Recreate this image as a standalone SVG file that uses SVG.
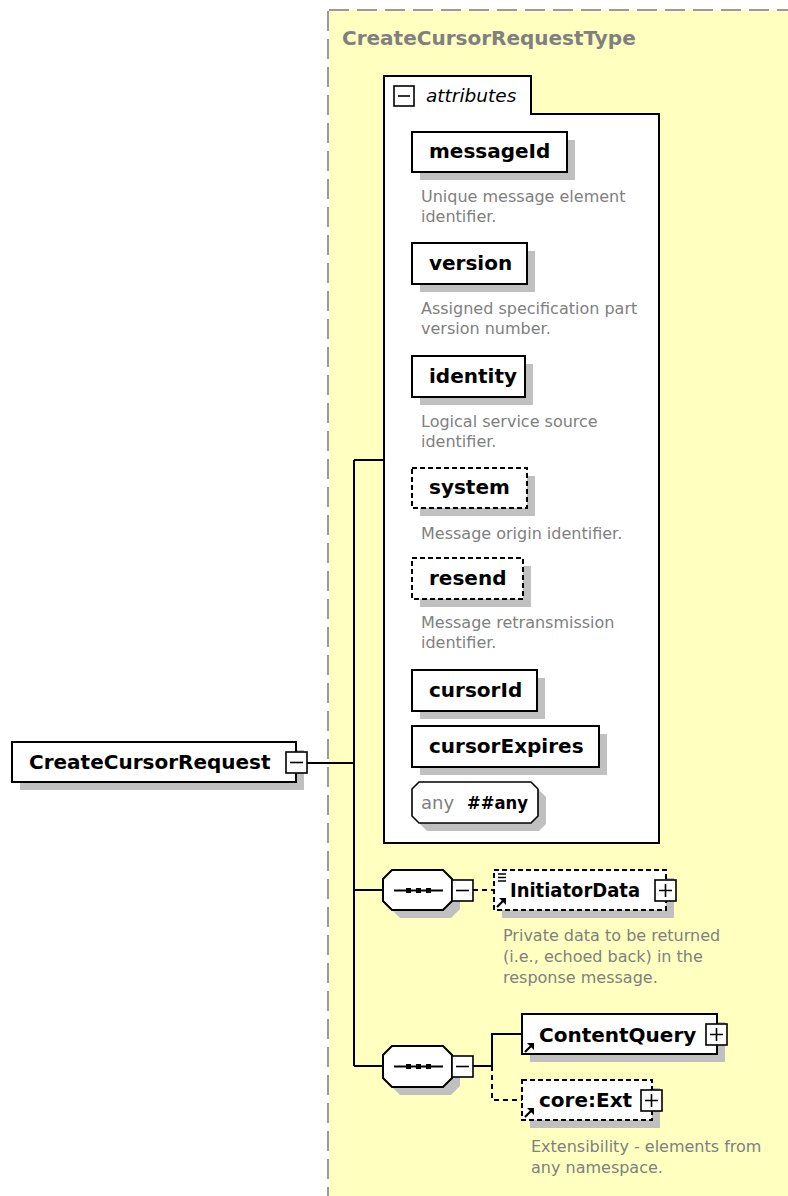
<svg xmlns="http://www.w3.org/2000/svg" width="788" height="1196" viewBox="0 0 788 1196">
  <defs>
    <style>
      .bg { fill: #ffffc0; }
      .frame { stroke: #9a9a9a; stroke-width: 2; stroke-dasharray: 20 8; fill: none; }
      .box { fill: #ffffff; stroke: #000000; stroke-width: 2; }
      .dashed { stroke-dasharray: 5 3; }
      .shadow { fill: #c0c0c0; }
      .conn { stroke: #000000; stroke-width: 2; fill: none; }
      .conn-opt { stroke: #000000; stroke-width: 2; fill: none; stroke-dasharray: 5 4; }
      .toggle { fill: #ffffff; stroke: #000000; stroke-width: 1.6; }
      .sign { stroke: #000000; stroke-width: 1.6; fill: none; }
      .name { font-family: "DejaVu Sans", Verdana, sans-serif; font-weight: bold; font-size: 20px; fill: #000000; }
      .title { font-family: "DejaVu Sans", Verdana, sans-serif; font-weight: bold; font-size: 20px; fill: #808080; }
      .desc { font-family: "DejaVu Sans", Verdana, sans-serif; font-size: 16px; fill: #808080; }
      .label { font-family: "DejaVu Sans", Verdana, sans-serif; font-style: italic; font-size: 18.5px; fill: #000000; }
      .icon { stroke: #000000; stroke-width: 2.2; fill: none; }
    </style>
    <!-- reference arrow glyph drawn at the lower-left corner of referenced elements -->
    <g id="ref-arrow">
      <path d="M1,10 L7,4" class="icon"/>
      <path d="M3,1 H10 V8 Z" fill="#000"/>
    </g>
    <!-- collapse / expand toggles -->
    <g id="minus">
      <rect x="0" y="0" width="21" height="21" class="toggle"/>
      <path d="M4,10.5 H17" class="sign"/>
    </g>
    <g id="plus">
      <rect x="0" y="0" width="21" height="21" class="toggle"/>
      <path d="M4,10.5 H17 M10.5,4 V17" class="sign"/>
    </g>
  </defs>

  <rect width="788" height="1196" fill="#ffffff"/>

  <!-- complex type area -->
  <g id="CreateCursorRequestType">
    <rect x="329" y="10" width="459" height="1186" class="bg"/>
    <path d="M329,10 H788 M328,11 V1196" class="frame"/>
    <text x="342" y="45" class="title">CreateCursorRequestType</text>
  </g>

  <!-- connectors -->
  <g id="connectors">
    <path d="M307,763 H354" class="conn"/>
    <path d="M354,460 V1066" class="conn"/>
    <path d="M354,460 H384" class="conn"/>
    <path d="M354,890 H383" class="conn"/>
    <path d="M354,1066 H383" class="conn"/>
    <path d="M473,890 H494" class="conn-opt"/>
    <path d="M473,1066 H492 V1034 H522" class="conn"/>
    <path d="M492,1066 V1100 H522" class="conn-opt"/>
  </g>

  <!-- root element -->
  <g id="CreateCursorRequest">
    <rect x="20" y="750" width="284" height="40" class="shadow"/>
    <rect x="12" y="742" width="284" height="40" class="box"/>
    <text x="29" y="769" class="name">CreateCursorRequest</text>
    <use href="#minus" x="286" y="752"/>
  </g>

  <!-- attributes container -->
  <g id="attributes">
    <path d="M384,843 V76 H531 V114 H659 V843 Z" class="box"/>
    <rect x="394" y="86" width="20" height="20" class="toggle"/>
    <path d="M398,96 H410" class="sign"/>
    <text x="426" y="102" class="label">attributes</text>
  </g>

  <g id="attr-messageId">
    <rect x="420" y="140" width="155" height="40" class="shadow"/>
    <rect x="412" y="132" width="155" height="40" class="box"/>
    <text x="429" y="158" class="name">messageId</text>
    <text x="421" y="202" class="desc">Unique message element</text>
    <text x="421" y="222" class="desc">identifier.</text>
  </g>

  <g id="attr-version">
    <rect x="420" y="251" width="115" height="41" class="shadow"/>
    <rect x="412" y="243" width="115" height="41" class="box"/>
    <text x="429" y="270" class="name">version</text>
    <text x="421" y="314" class="desc">Assigned specification part</text>
    <text x="421" y="334" class="desc">version number.</text>
  </g>

  <g id="attr-identity">
    <rect x="420" y="364" width="113" height="41" class="shadow"/>
    <rect x="412" y="356" width="113" height="41" class="box"/>
    <text x="429" y="383" class="name">identity</text>
    <text x="421" y="427" class="desc">Logical service source</text>
    <text x="421" y="447" class="desc">identifier.</text>
  </g>

  <g id="attr-system">
    <rect x="420" y="476" width="115" height="40" class="shadow"/>
    <rect x="412" y="468" width="115" height="40" class="box dashed"/>
    <text x="429" y="494" class="name">system</text>
    <text x="421" y="539" class="desc">Message origin identifier.</text>
  </g>

  <g id="attr-resend">
    <rect x="420" y="566" width="111" height="41" class="shadow"/>
    <rect x="412" y="558" width="111" height="41" class="box dashed"/>
    <text x="429" y="585" class="name">resend</text>
    <text x="421" y="628" class="desc">Message retransmission</text>
    <text x="421" y="648" class="desc">identifier.</text>
  </g>

  <g id="attr-cursorId">
    <rect x="420" y="678" width="125" height="41" class="shadow"/>
    <rect x="412" y="670" width="125" height="41" class="box"/>
    <text x="429" y="697" class="name">cursorId</text>
  </g>

  <g id="attr-cursorExpires">
    <rect x="420" y="734" width="187" height="41" class="shadow"/>
    <rect x="412" y="726" width="187" height="41" class="box"/>
    <text x="429" y="753" class="name">cursorExpires</text>
  </g>

  <g id="attr-any">
    <path d="M427,790 H539 L546,797 V824 L539,831 H427 L420,824 V797 Z" class="shadow"/>
    <path d="M419,782 H531 L538,789 V816 L531,823 H419 L412,816 V789 Z" fill="#ffffff" stroke="#000" stroke-width="1.6"/>
    <text x="421" y="809" class="desc" style="font-size:18px">any</text>
    <text x="467" y="809" class="name" style="font-size:17.5px" textLength="61" lengthAdjust="spacingAndGlyphs">##any</text>
  </g>

  <!-- first sequence -->
  <g id="sequence-1">
    <path d="M400,878 H451 L460,887 V909 L451,918 H400 L391,909 V887 Z" class="shadow"/>
    <path d="M392,870 H443 L452,879 V901 L443,910 H392 L383,901 V879 Z" class="box"/>
    <path d="M394,890.5 H443" class="conn"/>
    <rect x="406" y="888" width="5" height="5" fill="#000"/>
    <rect x="416" y="888" width="5" height="5" fill="#000"/>
    <rect x="426" y="888" width="5" height="5" fill="#000"/>
    <use href="#minus" x="452" y="880"/>
  </g>

  <g id="InitiatorData">
    <rect x="502" y="878" width="172" height="40" class="shadow"/>
    <rect x="494" y="870" width="172" height="40" class="box dashed"/>
    <path d="M498,874 H506 M498,877.5 H506 M498,881 H506" stroke="#000" stroke-width="1.3"/>
    <use href="#ref-arrow" x="496" y="897"/>
    <text x="510" y="897" class="name" textLength="130" lengthAdjust="spacingAndGlyphs">InitiatorData</text>
    <use href="#plus" x="655" y="880"/>
    <text x="503" y="941" class="desc">Private data to be returned</text>
    <text x="503" y="962" class="desc">(i.e., echoed back) in the</text>
    <text x="503" y="983" class="desc">response message.</text>
  </g>

  <!-- second sequence -->
  <g id="sequence-2">
    <path d="M400,1054 H451 L460,1063 V1086 L451,1095 H400 L391,1086 V1063 Z" class="shadow"/>
    <path d="M392,1046 H443 L452,1055 V1078 L443,1087 H392 L383,1078 V1055 Z" class="box"/>
    <path d="M394,1066.5 H443" class="conn"/>
    <rect x="406" y="1064" width="5" height="5" fill="#000"/>
    <rect x="416" y="1064" width="5" height="5" fill="#000"/>
    <rect x="426" y="1064" width="5" height="5" fill="#000"/>
    <use href="#minus" x="452" y="1056"/>
  </g>

  <g id="ContentQuery">
    <rect x="530" y="1022" width="195" height="40" class="shadow"/>
    <rect x="522" y="1014" width="195" height="40" class="box"/>
    <use href="#ref-arrow" x="524" y="1042"/>
    <text x="539" y="1042" class="name">ContentQuery</text>
    <use href="#plus" x="706" y="1024"/>
  </g>

  <g id="core-Ext">
    <rect x="530" y="1088" width="130" height="40" class="shadow"/>
    <rect x="522" y="1080" width="130" height="40" class="box dashed"/>
    <use href="#ref-arrow" x="524" y="1107"/>
    <text x="539" y="1107" class="name">core:Ext</text>
    <use href="#plus" x="641" y="1090"/>
    <text x="531" y="1152" class="desc">Extensibility - elements from</text>
    <text x="531" y="1173" class="desc">any namespace.</text>
  </g>
</svg>
